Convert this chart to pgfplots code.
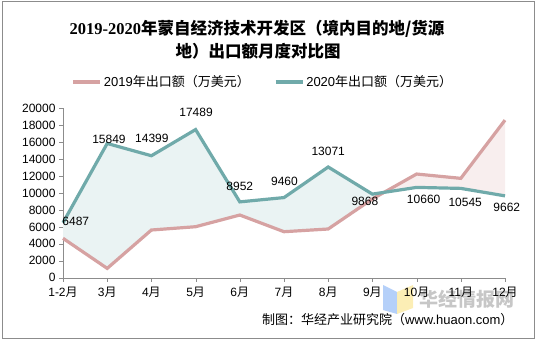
\documentclass[border=0pt]{standalone}
\usepackage{pgfplots}
\usepackage{pgfplotstable}
\pgfplotsset{compat=1.18}
\usepackage{fontspec}
\setmainfont{Liberation Sans}
\newfontfamily\cjk{Noto Sans CJK SC}
\newfontfamily\serifd{Liberation Serif}
\definecolor{c19}{RGB}{214,162,162}
\definecolor{c20}{RGB}{112,170,170}
\definecolor{f20}{RGB}{234,243,243}
\definecolor{f19}{RGB}{248,238,238}
\definecolor{axgray}{RGB}{140,140,140}
\pgfplotstableread{
x y
0 4650
1 1100
2 5630
3 6020
4 7400
5 5430
6 5750
7 9300
8 12240
9 11730
10 18600
}\datA
\pgfplotstableread{
x y
0 6487
1 15849
2 14399
3 17489
4 8952
5 9460
6 13071
7 9868
8 10660
9 10545
10 9662
}\datB
\begin{document}
\begin{tikzpicture}
\useasboundingbox (0,0) rectangle (536bp,341bp);
\draw[axgray,line width=1bp] (2bp,2bp) rectangle (534bp,339bp);
% watermark (behind the chart)
\fill[fill={rgb,255:red,168;green,200;blue,248}, opacity=0.85] (383bp,56bp) -- (397bp,49bp) -- (397bp,27bp) -- (383bp,31bp) -- cycle;
\fill[fill={rgb,255:red,252;green,235;blue,168}, opacity=0.85] (397bp,49bp) -- (413bp,56bp) -- (413bp,33bp) -- (397bp,27bp) -- cycle;
\node[font=\fontsize{19bp}{21bp}\selectfont, text=black!22] at (467bp,42bp) {{\cjk\bfseries 华经情报网}};
\begin{axis}[
  scale only axis, width=442bp, height=169.4bp,
  at={(63bp,63.3bp)}, anchor=south west,
  xmin=0, xmax=10, ymin=0, ymax=20000,
  axis lines=left, axis line style={axgray,-},
  xtick={0,...,10},
  xticklabels={1-2{\cjk 月},3{\cjk 月},4{\cjk 月},5{\cjk 月},6{\cjk 月},7{\cjk 月},8{\cjk 月},9{\cjk 月},10{\cjk 月},11{\cjk 月},12{\cjk 月}},
  ytick={0,2000,...,20000},
  tick align=outside, major tick length=4bp,
  tick style={axgray},
  scaled y ticks=false,
  yticklabel style={/pgf/number format/1000 sep={}, /pgf/number format/assume math mode=true},
  ticklabel style={font=\fontsize{12bp}{14bp}\selectfont, text=black},
  xticklabel style={yshift=-2bp},
  legend style={at={(0.452,1.155)}, anchor=center, draw=none, fill=none,
    legend columns=2, font=\fontsize{13bp}{15bp}\selectfont,
    /tikz/every even column/.append style={column sep=22bp}},
  legend image code/.code={\draw[#1,line width=3.5bp] (0bp,0bp) -- (27bp,0bp);},
  clip=false,
]
% area between the two series (2020 above until the crossing after Sept, then 2019 above)
\addplot[fill=f20, draw=none, forget plot] coordinates {
 (0,6487) (1,15849) (2,14399) (3,17489) (4,8952) (5,9460) (6,13071) (7,9868) (7.264,10077)
 (7,9300) (6,5750) (5,5430) (4,7400) (3,6020) (2,5630) (1,1100) (0,4650)} -- cycle;
\addplot[fill=f19, draw=none, forget plot] coordinates {
 (7.264,10077) (8,12240) (9,11730) (10,18600) (10,9662) (9,10545) (8,10660)} -- cycle;
\addplot[c19, line width=3.2bp] table {\datA};
\addlegendentry{2019{\cjk 年出口额（万美元）}}
\addplot[c20, line width=3.2bp] table {\datB};
\addlegendentry{2020{\cjk 年出口额（万美元）}}
\node[font=\fontsize{12bp}{14bp}\selectfont] at (axis cs:0.29,6690) {6487};
\node[font=\fontsize{12bp}{14bp}\selectfont] at (axis cs:1.04,16380) {15849};
\node[font=\fontsize{12bp}{14bp}\selectfont] at (axis cs:2.01,16500) {14399};
\node[font=\fontsize{12bp}{14bp}\selectfont] at (axis cs:3.01,19570) {17489};
\node[font=\fontsize{12bp}{14bp}\selectfont] at (axis cs:4.0,10760) {8952};
\node[font=\fontsize{12bp}{14bp}\selectfont] at (axis cs:5.01,11350) {9460};
\node[font=\fontsize{12bp}{14bp}\selectfont] at (axis cs:6.0,14960) {13071};
\node[font=\fontsize{12bp}{14bp}\selectfont] at (axis cs:6.83,9000) {9868};
\node[font=\fontsize{12bp}{14bp}\selectfont] at (axis cs:8.16,9300) {10660};
\node[font=\fontsize{12bp}{14bp}\selectfont] at (axis cs:9.1,8860) {10545};
\node[font=\fontsize{12bp}{14bp}\selectfont] at (axis cs:10.04,8270) {9662};
\end{axis}
\node[font=\fontsize{16.5bp}{20bp}\selectfont] at (257bp,312bp) {{\serifd\bfseries 2019-2020}{\cjk\bfseries 年蒙自经济技术开发区（境内目的地/货源}};
\node[font=\fontsize{16.5bp}{20bp}\selectfont] at (258bp,290bp) {{\cjk\bfseries 地）出口额月度对比图}};
\node[font=\fontsize{13bp}{15bp}\selectfont, anchor=east] at (517bp,21bp) {{\cjk 制图：华经产业研究院（}www.huaon.com{\cjk ）}};
\end{tikzpicture}
\end{document}
